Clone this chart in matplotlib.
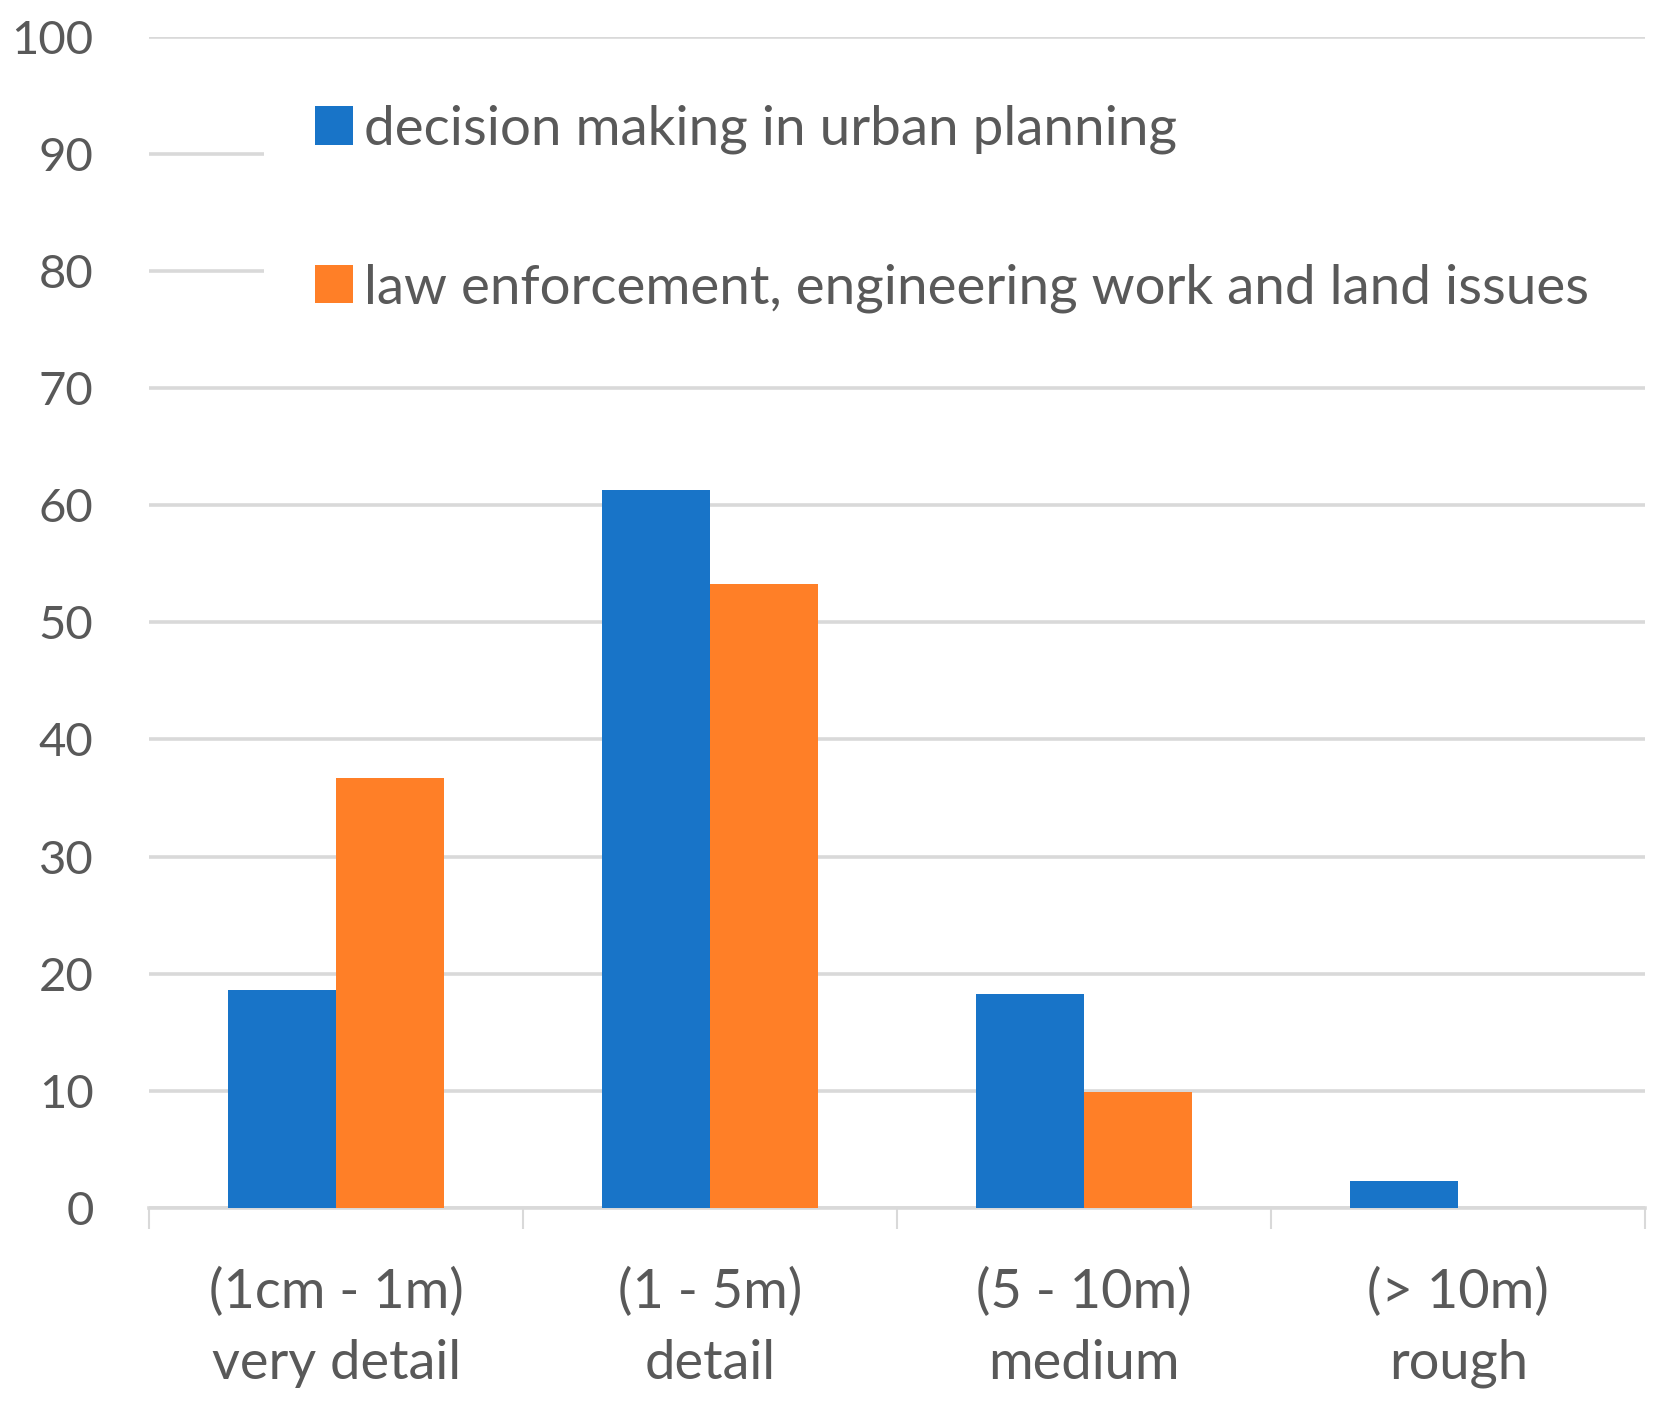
import matplotlib
matplotlib.use("Agg")
import matplotlib.pyplot as plt
import numpy as np
from matplotlib.patches import Patch

categories = ["(1cm - 1m)\nvery detail", "(1 - 5m)\ndetail", "(5 - 10m)\nmedium", "(> 10m)\nrough"]
urban_planning = [18.6, 61.3, 18.3, 2.3]
law_engineering = [36.7, 53.3, 9.9, 0.0]
series_names = ["decision making in urban planning",
                "law enforcement, engineering work and land issues"]
y_ticks = [0, 10, 20, 30, 40, 50, 60, 70, 80, 90, 100]

BLUE = "#1874C8"
ORANGE = "#FF7F27"
GRID = "#D9D9D9"
TEXT = "#595959"

plt.rcParams["font.family"] = ["Lato", "DejaVu Sans"]

fig = plt.figure(figsize=(16.61, 14.08), dpi=100)
ax = fig.add_axes([0.0898, 0.142, 0.9007, 0.832])

x = np.arange(len(categories))
w = 0.288
ax.bar(x - w / 2, urban_planning, w, color=BLUE, zorder=3)
ax.bar(x + w / 2, law_engineering, w, color=ORANGE, zorder=3)

ax.set_xlim(-0.5, len(categories) - 0.5)
ax.set_ylim(0, 100)

# y axis
ax.set_yticks(y_ticks)
ax.tick_params(axis="y", length=0, pad=40, labelsize=34, labelcolor=TEXT)
ax.yaxis.grid(True, color=GRID, linewidth=2.6, zorder=0)
ax.set_axisbelow(True)

# x axis: tick marks on boundaries, labels at centres
ax.set_xticks(np.arange(-0.5, len(categories), 1.0))
ax.set_xticklabels([])
ax.tick_params(axis="x", which="major", length=15, width=1.5, color=GRID)
ax.set_xticks(x, minor=True)
ax.set_xticklabels(categories, minor=True)
ax.tick_params(axis="x", which="minor", length=0, pad=42, labelsize=39, labelcolor=TEXT)
for lbl in ax.get_xticklabels(minor=True):
    lbl.set_linespacing(1.55)

for side in ["top", "right", "left"]:
    ax.spines[side].set_visible(False)
ax.spines["bottom"].set_color(GRID)
ax.spines["bottom"].set_linewidth(2.6)

handles = [Patch(facecolor=BLUE, edgecolor="none"), Patch(facecolor=ORANGE, edgecolor="none")]
leg = ax.legend(handles, series_names, loc="upper left",
                bbox_to_anchor=(0.077, 0.985, 0.93, 0.0), mode="expand",
                fontsize=39.4, frameon=True, facecolor="white", edgecolor="none",
                framealpha=1.0, fancybox=False, borderpad=0.92,
                handlelength=0.7, handleheight=0.7, handletextpad=0.2,
                labelspacing=2.0, borderaxespad=0.0)
leg.set_zorder(4)
for t in leg.get_texts():
    t.set_color(TEXT)

fig.savefig("out.png", dpi=100, facecolor="white")
